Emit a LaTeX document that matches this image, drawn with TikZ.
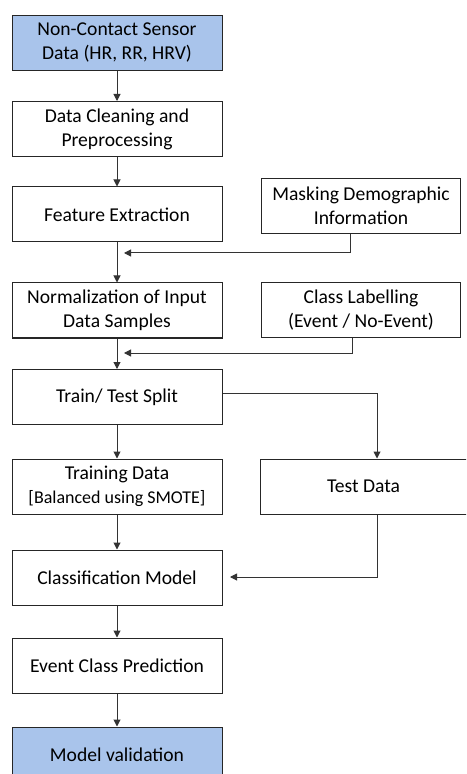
\documentclass[tikz,border=0pt]{standalone}
\usepackage{fontspec}
\setmainfont{Carlito}
\usetikzlibrary{arrows.meta}
\definecolor{flowblue}{HTML}{A9C4EB}

\tikzset{
  flowbox/.style={draw=black!85,line width=0.5pt,fill=white,align=center,
    minimum width=105pt,minimum height=27.5pt,inner sep=1pt,
    font=\fontsize{9.8}{12}\selectfont},
  inputbox/.style={flowbox,fill=flowblue},
  flowline/.style={draw=black!80,line width=0.5pt,
    -{Triangle[length=3.5pt,width=3.5pt]}},
}

\begin{document}
\begin{tikzpicture}[x=0.5pt,y=-0.5pt]
  \clip (0,0) rectangle (466,774);
  \fill[white] (0,0) rectangle (466,774);

  % main column
  \node[inputbox] (src) at (117,43) {Non-Contact Sensor\\Data (HR, RR, HRV)};
  \node[flowbox] (clean) at (117,129) {Data Cleaning and\\Preprocessing};
  \node[flowbox] (feat) at (117,214.5) {Feature Extraction};
  \node[flowbox] (norm) at (117,310.5) {Normalization of Input\\Data Samples};
  \node[flowbox] (split) at (117,397) {Train/ Test Split};
  \node[flowbox] (train) at (117,486.5)
    {Training Data\\{\fontsize{9}{11}\selectfont [Balanced using SMOTE]}};
  \node[flowbox] (cls) at (117,577.5) {Classification Model};
  \node[flowbox] (pred) at (117,665.5) {Event Class Prediction};
  \node[inputbox] (valid) at (117,754.5) {Model validation};

  % side column
  \node[flowbox,minimum width=99.5pt] (mask) at (361,206) {Masking Demographic\\Information};
  \node[flowbox,minimum width=99.5pt] (label) at (361,310) {Class Labelling\\(Event / No-Event)};
  \node[flowbox,minimum width=103.5pt] (test) at (363.5,486.5) {Test Data};

  \coordinate (mjoin) at (124,253);
  \coordinate (ljoin) at (124,353);
  \coordinate (cjoin) at (230,577);

  \draw[flowline] (src) -- (clean);
  \draw[flowline] (clean) -- (feat);
  \draw[flowline] (feat) -- (norm);
  \draw[flowline] (norm) -- (split);
  \draw[flowline] (split) -- (train);
  \draw[flowline] (train) -- (cls);
  \draw[flowline] (cls) -- (pred);
  \draw[flowline] (pred) -- (valid);

  \draw[flowline] ([xshift=-5.5pt]mask.south) |- (mjoin);
  \draw[flowline] ([xshift=-4.5pt]label.south) |- (ljoin);
  \draw[flowline] ([yshift=2pt]split.east) -| ([xshift=6.75pt]test.north);
  \draw[flowline] ([xshift=6.75pt]test.south) |- (cjoin);
\end{tikzpicture}
\end{document}
